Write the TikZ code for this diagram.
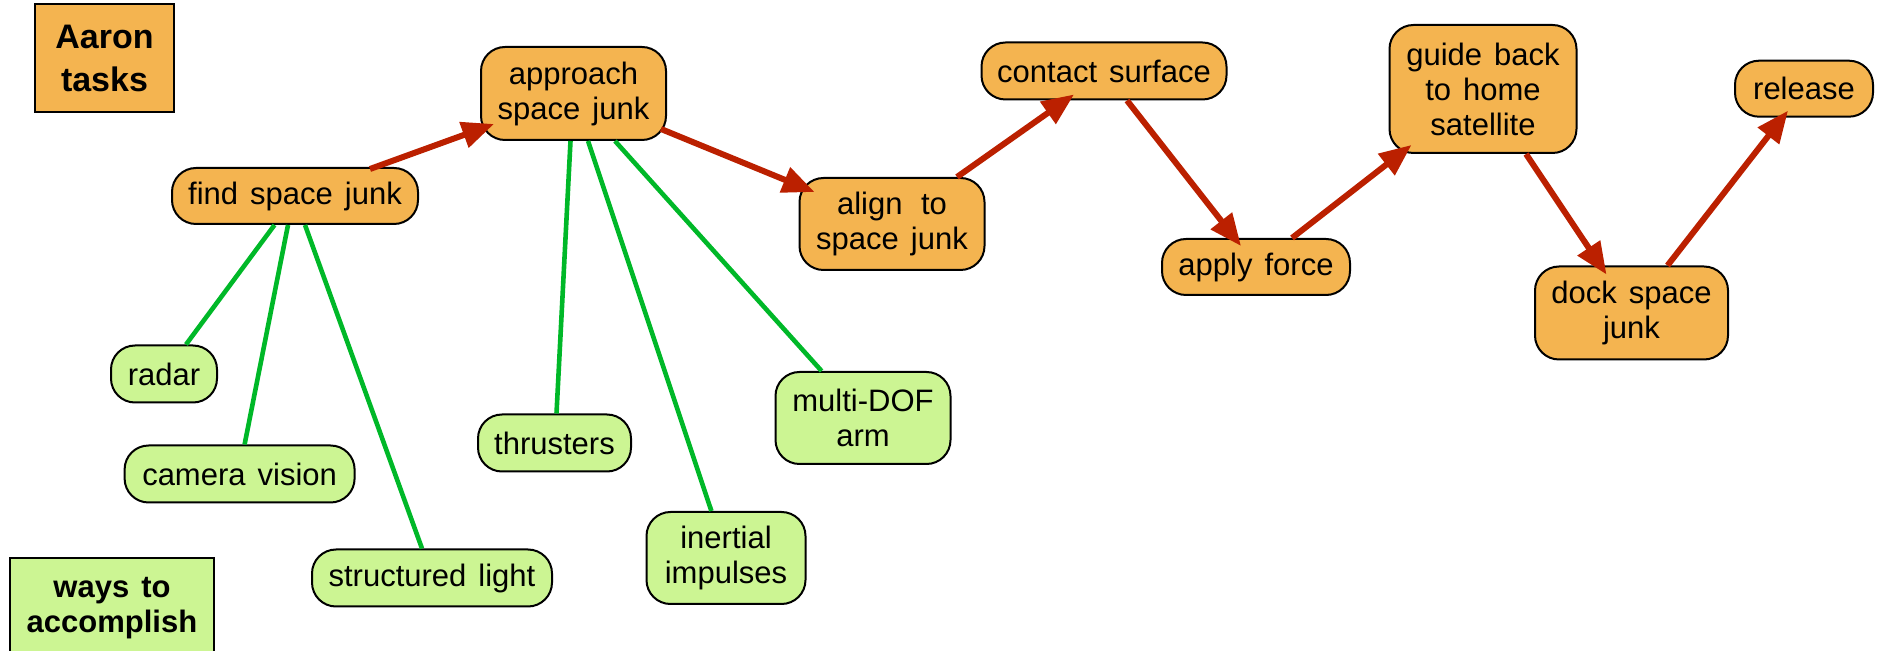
\documentclass[tikz,border=0pt]{standalone}
\usepackage{fontspec}
\setmainfont{Liberation Sans}[WordSpace=1.4]
\usetikzlibrary{arrows.meta,calc}
\definecolor{taskfill}{RGB}{244,180,80}
\definecolor{wayfill}{RGB}{204,245,147}
\definecolor{wayline}{RGB}{0,184,40}
\definecolor{flowred}{RGB}{187,32,0}
\newcommand{\widesp}{\hspace{0.6em}}
\begin{document}
\begin{tikzpicture}[x=0.5pt,y=-0.5pt,
  task/.style={draw=black, line width=1pt, fill=taskfill, rounded corners=12pt,
    align=center, inner sep=0pt, font=\fontsize{15.5}{17.5}\selectfont},
  way/.style={task, fill=wayfill},
  legend/.style={draw=black, line width=1pt, rectangle, align=center, inner sep=0pt},
  flow/.style={draw=flowred, line width=3pt, -{Triangle[length=16pt,width=13pt]}},
  link/.style={draw=wayline, line width=2.3pt},
]
\useasboundingbox (0,0) rectangle (1879,651);
\begin{scope}
\clip (0,0) rectangle (1879,651);
% task nodes
\node[task, minimum width=123pt, minimum height=28pt] (find) at (295,196) {find space junk};
\node[task, minimum width=92.5pt, minimum height=46.5pt] (approach) at (573.5,93.5) {approach\\space junk};
\node[task, minimum width=92.5pt, minimum height=46pt] (align) at (892,224) {align\widesp to\\space junk};
\node[task, minimum width=122.5pt, minimum height=28.5pt] (contact) at (1104,71) {contact surface};
\node[task, minimum width=94pt, minimum height=28pt] (apply) at (1256,267) {apply force};
\node[task, minimum width=93.5pt, minimum height=64pt] (guide) at (1483,89) {guide back\\to home\\satellite};
\node[task, minimum width=96.5pt, minimum height=46.5pt] (dock) at (1631.5,313) {dock space\\junk};
\node[task, minimum width=69pt, minimum height=28pt] (release) at (1804,88.7) {release};
% ways nodes
\node[way, minimum width=53pt, minimum height=28.5pt] (radar) at (164,374) {radar};
\node[way, minimum width=115pt, minimum height=28.5pt] (camera) at (239.6,474) {camera vision};
\node[way, minimum width=120pt, minimum height=28.5pt] (structured) at (432,578) {structured light};
\node[way, minimum width=76.5pt, minimum height=28.5pt] (thrusters) at (554.5,443) {thrusters};
\node[way, minimum width=79.5pt, minimum height=46pt] (inertial) at (726,558) {inertial\\impulses};
\node[way, minimum width=87.5pt, minimum height=46pt] (multi) at (863,418) {multi-DOF\\arm};
% legend
\node[legend, fill=taskfill, minimum width=69.5pt, minimum height=54pt,
  font=\bfseries\fontsize{17}{21.5}\selectfont] (aaron) at (104.5,58.5) {Aaron\\tasks};
\node[legend, fill=wayfill, minimum width=102pt, minimum height=50pt,
  font=\bfseries\fontsize{15.5}{17.5}\selectfont] (ways) at (112,608) {ways to\\accomplish};
% green links
\draw[link] ($(find.south)+(-20.5,0)$) -- ($(radar.north)+(22,0)$);
\draw[link] ($(find.south)+(-7,0)$) -- ($(camera.north)+(5,0)$);
\draw[link] ($(find.south)+(10,0)$) -- ($(structured.north)+(-10,0)$);
\draw[link] ($(approach.south)+(-3,0)$) -- ($(thrusters.north)+(2,0)$);
\draw[link] ($(approach.south)+(14.5,0)$) -- ($(inertial.north)+(-14.6,0)$);
\draw[link] ($(approach.south)+(41.5,0)$) -- ($(multi.north)+(-41.4,0)$);
% red flow arrows
\draw[flow] ($(find.north)+(75,2)$) -- ($(approach.south west)+(14,-17)$);
\draw[flow] ($(approach.south east)+(-6,-12)$) -- ($(align.north west)+(16,15)$);
\draw[flow] ($(align.north)+(65,0)$) -- ($(contact.south)+(-30,-6)$);
\draw[flow] ($(contact.south)+(23,0)$) -- ($(apply.north)+(-15,8)$);
\draw[flow] ($(apply.north)+(36,0)$) -- ($(guide.south west)+(23,-9)$);
\draw[flow] ($(guide.south)+(43,0)$) -- ($(dock.north)+(-25,9)$);
\draw[flow] ($(dock.north)+(36,0)$) -- ($(release.south)+(-16,-7)$);
\end{scope}
\end{tikzpicture}
\end{document}
